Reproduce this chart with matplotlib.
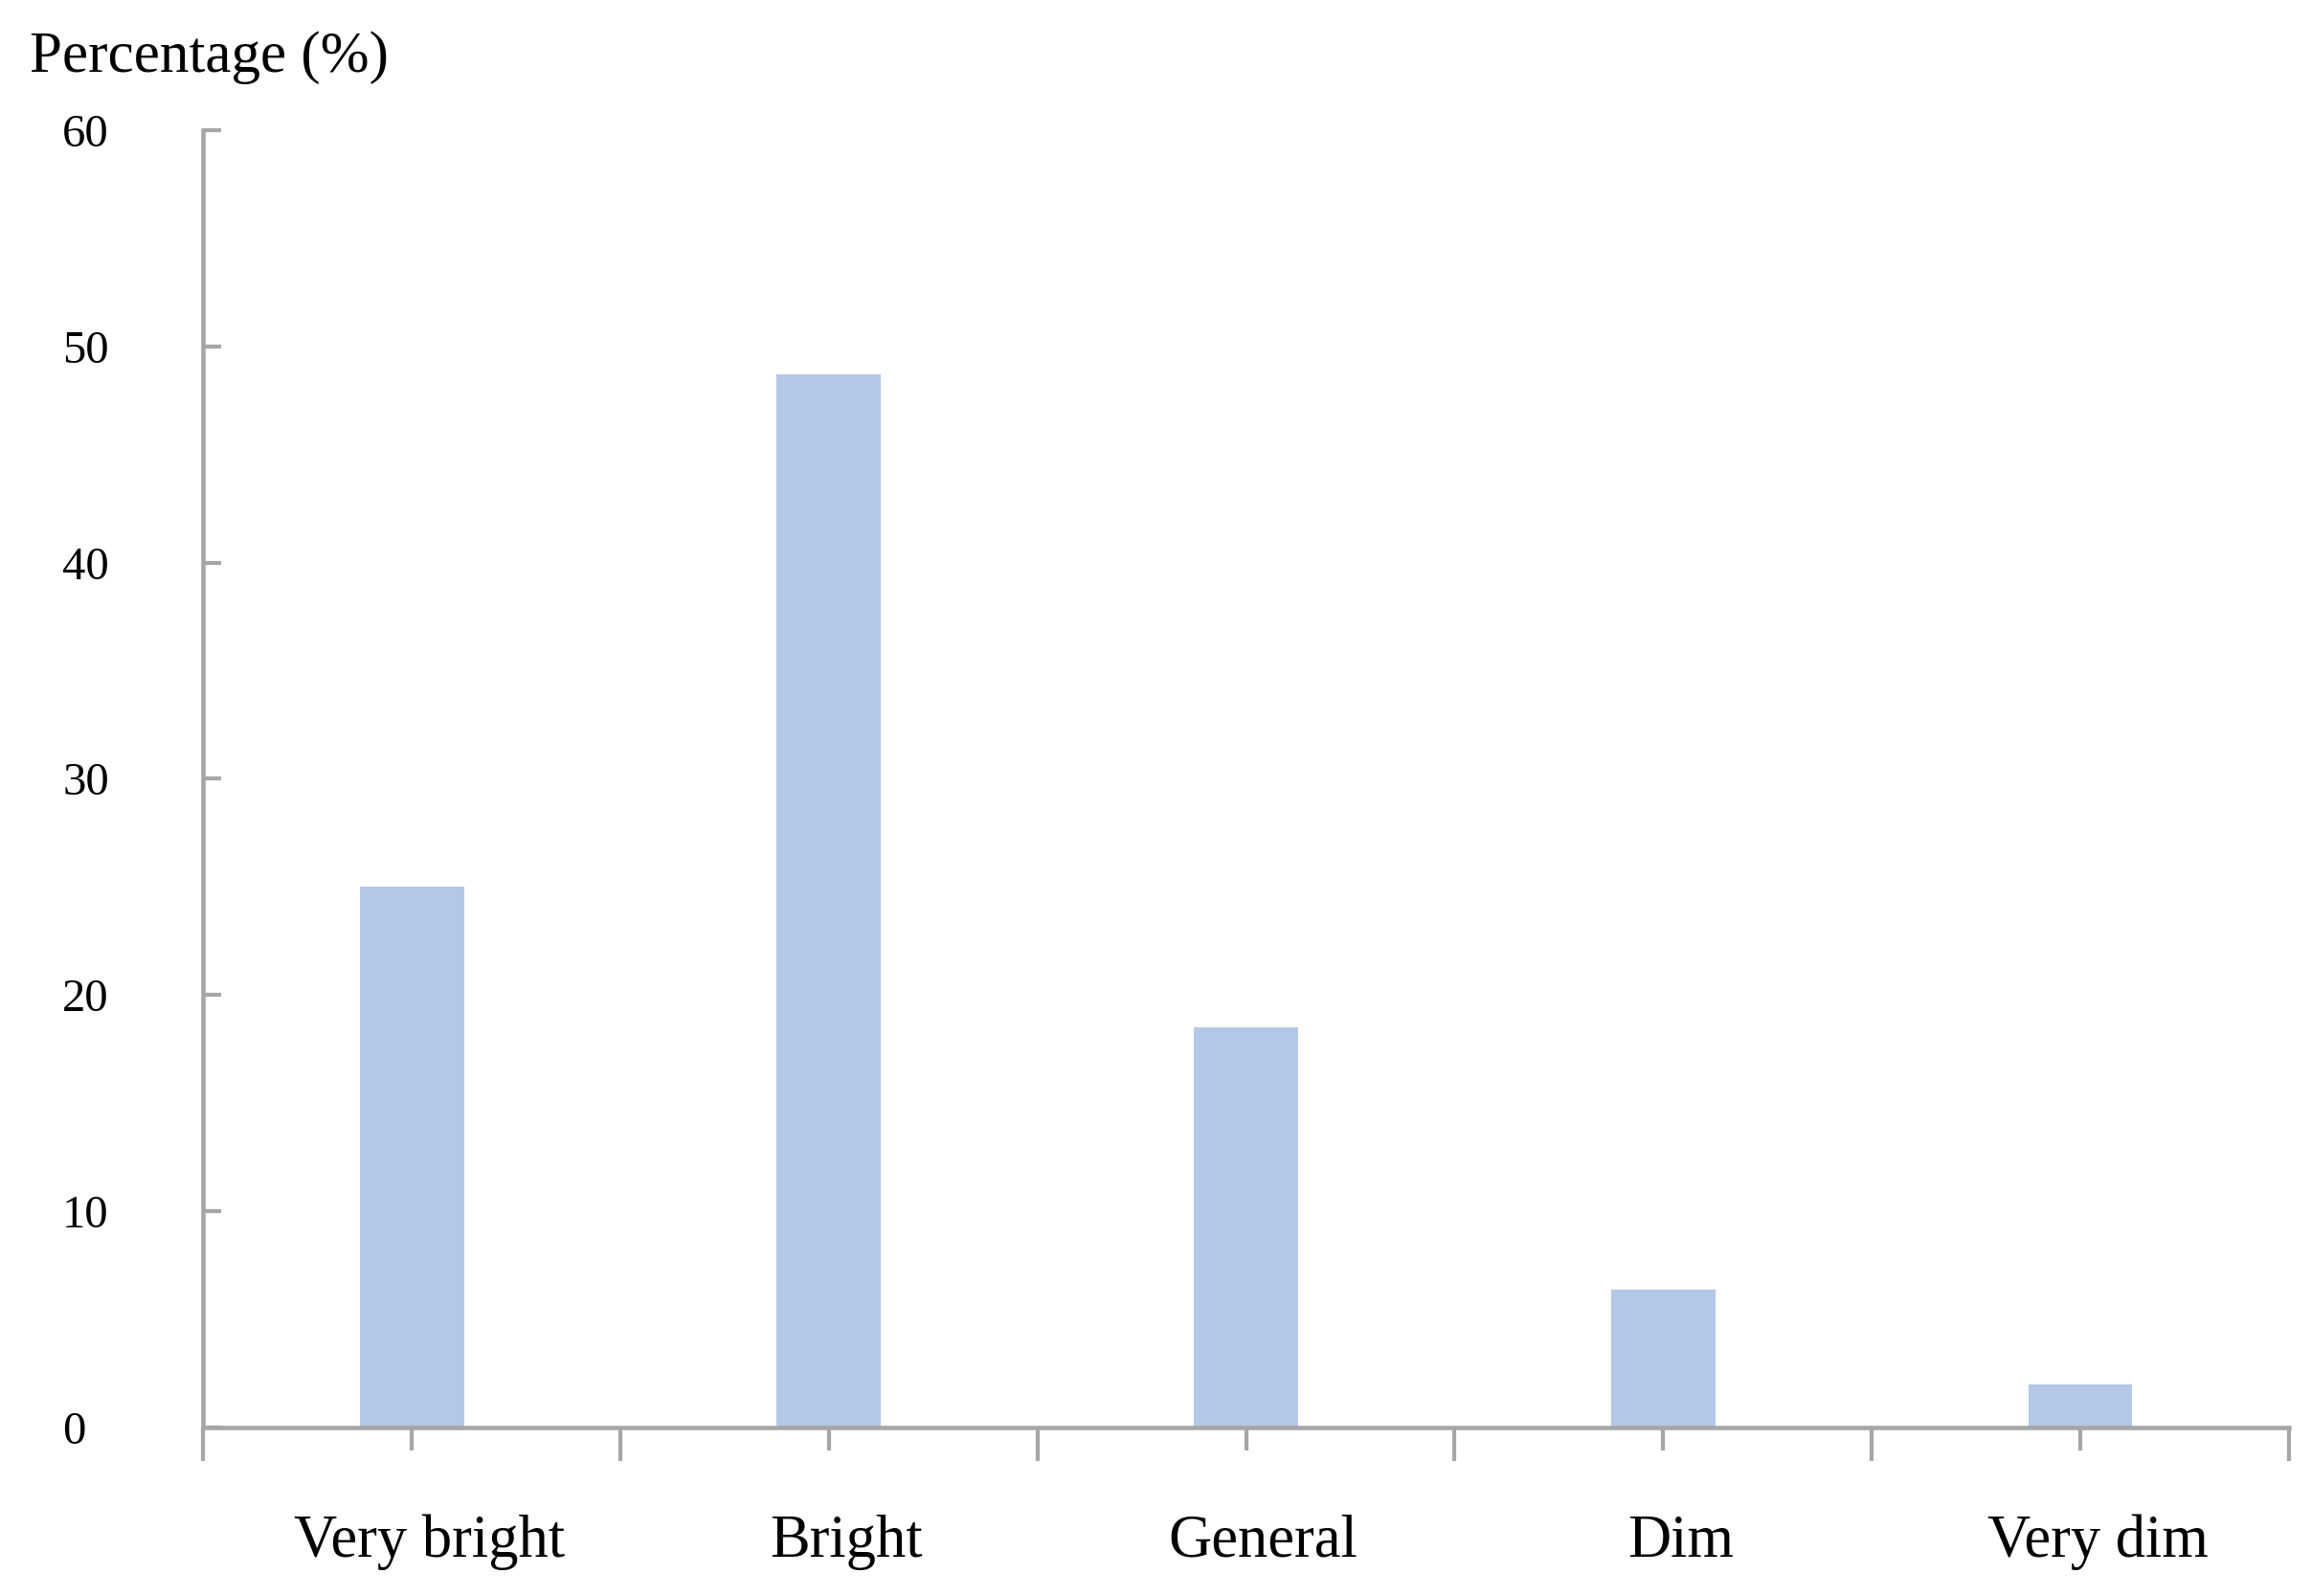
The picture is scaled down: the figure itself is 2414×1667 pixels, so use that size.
import numpy as np
import matplotlib
matplotlib.use("Agg")
import matplotlib.pyplot as plt
import matplotlib.transforms as mtransforms

# data
categories = ["Very bright", "Bright", "General", "Dim", "Very dim"]
percent = [25.0, 48.7, 18.5, 6.4, 2.0]
yticks = [0, 10, 20, 30, 40, 50, 60]

plt.rcParams['font.family'] = ['Liberation Serif', 'DejaVu Serif']

fig = plt.figure(figsize=(24.14, 16.67), dpi=100)
ax = fig.add_axes([0.088, 0.1053, 0.9024, 0.8134])

x = np.arange(len(categories))
ax.bar(x, percent, width=0.25, color='#b4c7e7', zorder=2)

axis_col = '#a6a6a6'
ax.set_xlim(-0.5, len(categories) - 0.5)
ax.set_ylim(0, 60)

for s in ['top', 'right']:
    ax.spines[s].set_visible(False)
for s in ['left', 'bottom']:
    ax.spines[s].set_color(axis_col)
    ax.spines[s].set_linewidth(3.3)

# y axis: inward ticks, labels left aligned
ax.set_yticks(yticks)
ax.set_yticklabels([str(v) for v in yticks])
ax.tick_params(axis='y', direction='in', length=14, width=3, color=axis_col,
               labelsize=35, pad=106)
for lab in ax.get_yticklabels():
    lab.set_horizontalalignment('left')

# x axis: short ticks at centres (labelled), long ticks at boundaries
ax.set_xticks(x)
ax.set_xticklabels(categories)
ax.set_xticks(np.arange(-0.5, len(categories)), minor=True)
ax.tick_params(axis='x', which='major', direction='out', length=17, width=3,
               color=axis_col, labelsize=45, pad=48)
ax.tick_params(axis='x', which='minor', direction='out', length=25, width=3,
               color=axis_col)
# labels sit a bit right of the tick in the original
shift = mtransforms.ScaledTranslation(0.18, 0, fig.dpi_scale_trans)
for lab in ax.get_xticklabels():
    lab.set_transform(lab.get_transform() + shift)

fig.text(0.0128, 0.955, "Percentage (%)", fontsize=44, ha='left', va='baseline')

fig.savefig("out.png", dpi=100, facecolor='white')
